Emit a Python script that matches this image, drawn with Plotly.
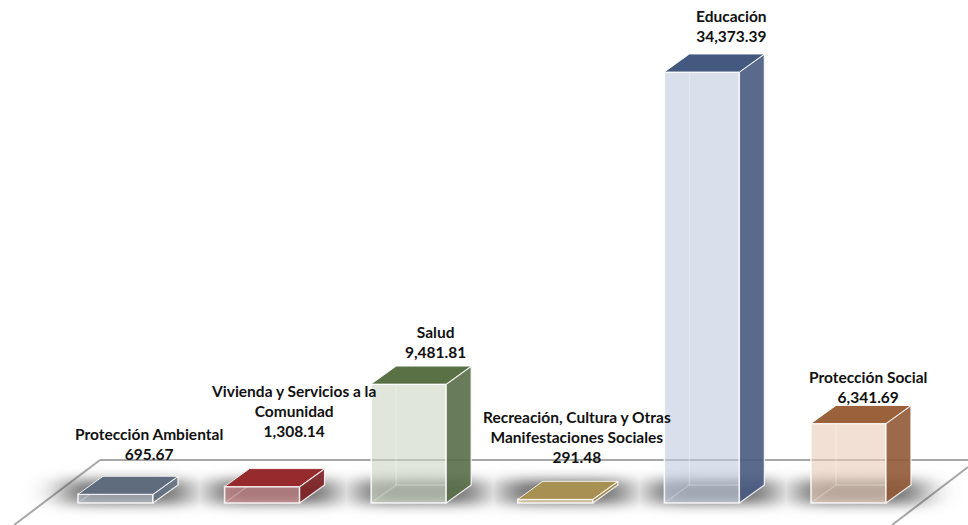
import base64
import math
import struct
import zlib
import numpy as np
import plotly.graph_objects as go

# --- chart data ---
categories = ["Protección Ambiental", "Vivienda y Servicios a la<br>Comunidad", "Salud",
              "Recreación, Cultura y Otras<br>Manifestaciones Sociales", "Educación", "Protección Social"]
values = [695.67, 1308.14, 9481.81, 291.48, 34373.39, 6341.69]
value_labels = ["695.67", "1,308.14", "9,481.81", "291.48", "34,373.39", "6,341.69"]

# --- style ---
front_colors = ["rgba(172,182,192,0.6)", "rgba(205,125,130,0.6)", "rgba(203,215,193,0.6)",
                "rgba(225,205,150,0.6)", "rgba(192,203,223,0.6)", "rgba(235,203,185,0.6)"]
side_colors = ["rgba(100,113,130,0.9)", "rgba(125,32,35,0.9)", "rgba(88,110,72,0.9)",
               "rgba(160,135,75,0.9)", "rgba(72,90,128,0.9)", "rgba(145,90,55,0.9)"]
top_colors = ["#5f6c7e", "#962a2c", "#5a7045", "#a89052", "#43597f", "#9a623b"]
label_dx_px = [21, 19, 14, 9, 17, 7]
label_dy_px = [11, 27, 3, 13, 7, -3]

PX_X = 146.6          # pixels per category
X0_PX = 115.5         # pixel of first category
PX_Y = 431 / 34373.39 # pixels per value unit
Y0_PX = 503           # pixel of value zero
BAR_W = 75 / PX_X
DX = 25 / PX_X
DY = 18 / PX_Y
W, H = 968, 525


def fx(px):
    return (px - X0_PX) / PX_X


def fy(py):
    return (Y0_PX - py) / PX_Y


def shadow_png():
    """Blurred floor shadow as an RGBA picture, one soft box below each bar."""
    top, bottom = 462, 525
    erf = np.vectorize(math.erf)
    px = np.arange(W) + 0.5
    py = np.arange(top, bottom) + 0.5
    alpha = np.zeros((bottom - top, W))
    for i in range(len(values)):
        left = X0_PX + i * PX_X - 37.5 - 14
        right = left + 75 + 14 + 36
        sx, sy = 17.0, 6.0
        ax = 0.5 * (erf((px - left) / (sx * 2 ** 0.5)) - erf((px - right) / (sx * 2 ** 0.5)))
        ay = 0.5 * (erf((py - 480) / (sy * 2 ** 0.5)) - erf((py - 504) / (sy * 2 ** 0.5)))
        alpha = np.maximum(alpha, np.outer(ay, ax))
    rgba = np.zeros((bottom - top, W, 4), dtype=np.uint8)
    rgba[..., :3] = 55
    rgba[..., 3] = (alpha * 0.74 * 255).astype(np.uint8)
    raw = b"".join(b"\x00" + row.tobytes() for row in rgba)

    def chunk(tag, data):
        return struct.pack(">I", len(data)) + tag + data + struct.pack(">I", zlib.crc32(tag + data))

    png = (b"\x89PNG\r\n\x1a\n" + chunk(b"IHDR", struct.pack(">IIBBBBB", W, bottom - top, 8, 6, 0, 0, 0))
           + chunk(b"IDAT", zlib.compress(raw)) + chunk(b"IEND", b""))
    return "data:image/png;base64," + base64.b64encode(png).decode(), top, bottom


edge = "rgba(255,255,255,0.85)"
inner = "rgba(255,255,255,0.24)"
xs = list(range(len(values)))

shapes = []
# floor outline
for (a, b, c, d) in [(100, 460, 968, 460), (100, 460, 14, 525), (968, 467, 892, 525)]:
    shapes.append(dict(type="line", xref="x", yref="y", x0=fx(a), y0=fy(b), x1=fx(c), y1=fy(d),
                       line=dict(color="#a8a8a8", width=2), layer="below"))

src, s_top, s_bottom = shadow_png()
images = [dict(source=src, xref="x", yref="y", x=fx(0), y=fy(s_top), sizex=fx(W) - fx(0),
               sizey=fy(s_top) - fy(s_bottom), xanchor="left", yanchor="top", sizing="stretch", layer="below")]

fig = go.Figure()

# front faces
fig.add_trace(go.Bar(x=xs, y=values, width=BAR_W, marker=dict(color=front_colors, line=dict(color=edge, width=1.6)),
                     hoverinfo="skip", showlegend=False))

for i, v in zip(xs, values):
    x0, x1 = i - BAR_W / 2, i + BAR_W / 2
    # back edges seen through the front
    fig.add_trace(go.Scatter(x=[x0, x0 + DX, x1 + DX, None, x0 + DX, x0 + DX],
                             y=[0, DY, DY, None, DY, v + DY], mode="lines",
                             line=dict(color=inner, width=1.5), hoverinfo="skip", showlegend=False))
    # right side
    fig.add_trace(go.Scatter(x=[x1, x1 + DX, x1 + DX, x1, x1], y=[0, DY, v + DY, v, 0], mode="lines",
                             fill="toself", fillcolor=side_colors[i], line=dict(color=edge, width=1.3),
                             hoverinfo="skip", showlegend=False))
    # top
    fig.add_trace(go.Scatter(x=[x0, x1, x1 + DX, x0 + DX, x0], y=[v, v, v + DY, v + DY, v], mode="lines",
                             fill="toself", fillcolor=top_colors[i], line=dict(color=edge, width=1.0),
                             hoverinfo="skip", showlegend=False))

annotations = []
for i, v in zip(xs, values):
    annotations.append(dict(x=i, y=v + DY, xref="x", yref="y", text=f"{categories[i]}<br>{value_labels[i]}",
                            showarrow=False, xanchor="center", yanchor="bottom", align="center",
                            xshift=12.5 + label_dx_px[i], yshift=label_dy_px[i],
                            font=dict(family="Lato, Carlito, sans-serif", size=15.5, color="#111111", weight="bold")))

fig.update_layout(width=W, height=H, autosize=False, margin=dict(l=0, r=0, t=0, b=0),
                  paper_bgcolor="white", plot_bgcolor="white", showlegend=False,
                  shapes=shapes, images=images, annotations=annotations, barmode="overlay",
                  xaxis=dict(range=[fx(0), fx(W)], visible=False, fixedrange=True),
                  yaxis=dict(range=[fy(H), fy(0)], visible=False, fixedrange=True))
fig.write_html("out.html", config=dict(displayModeBar=False),
               post_script="document.body.style.margin='0';document.body.style.overflow='hidden';")
